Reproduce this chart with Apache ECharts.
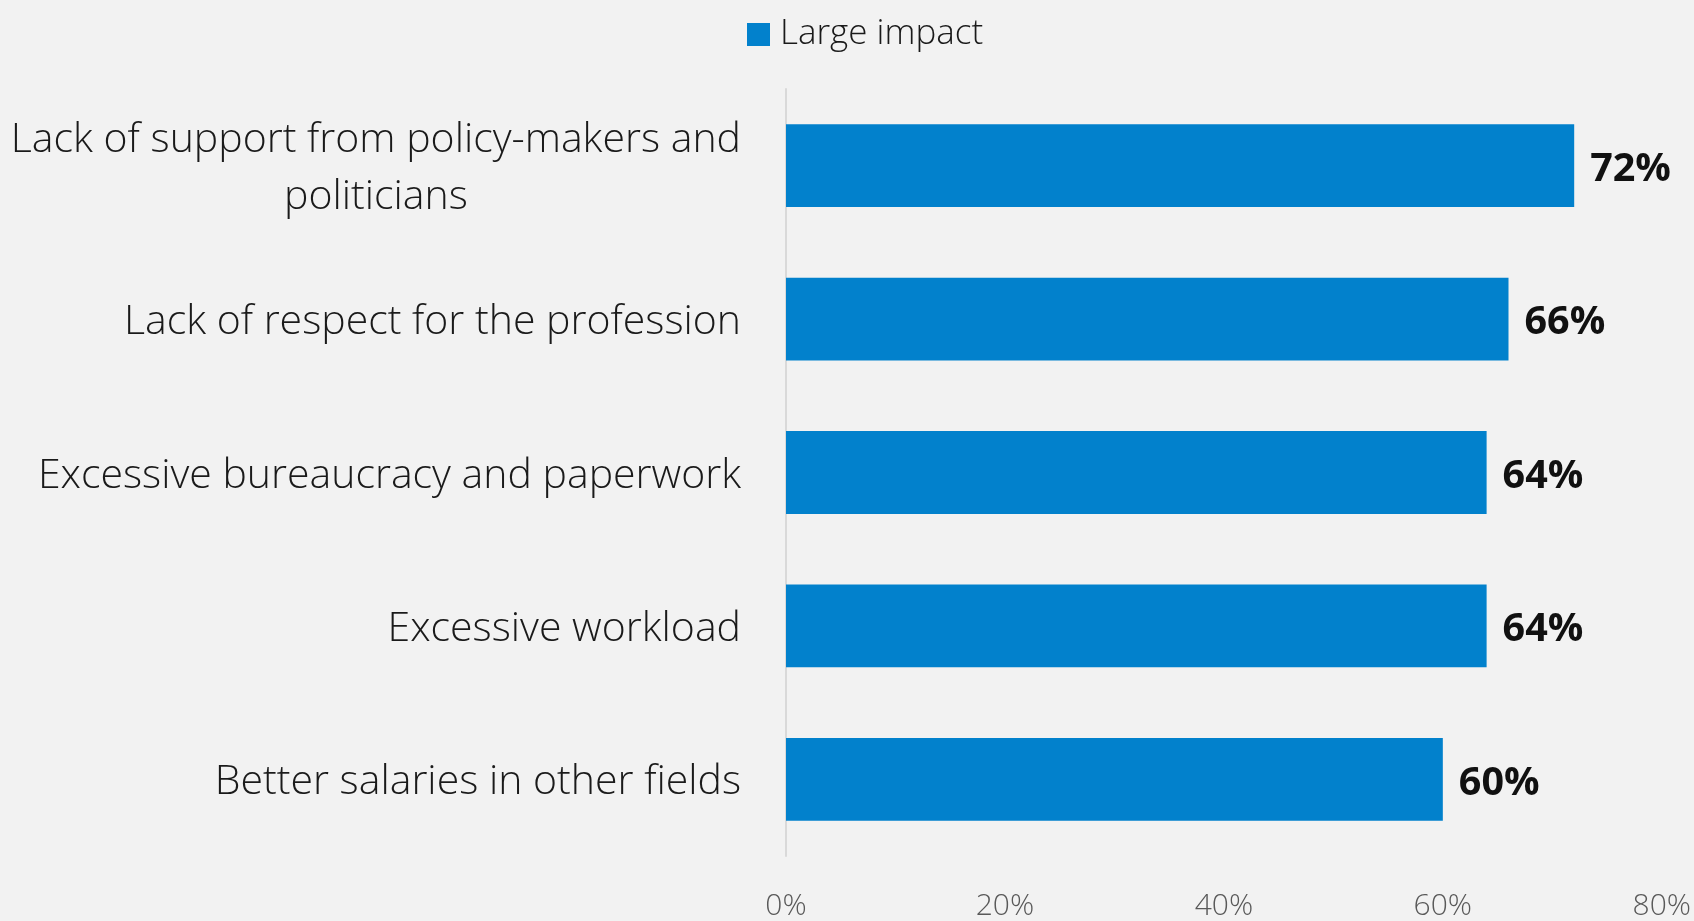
<!DOCTYPE html>
<html>
<head>
<meta charset="utf-8">
<title>Large impact</title>
<script src="https://cdn.jsdelivr.net/npm/echarts@6/dist/echarts.min.js"></script>
<style>
  html, body { margin: 0; padding: 0; background: #f2f2f2; }
  #chart { width: 1694px; height: 921px; }
</style>
</head>
<body>
<div id="chart"></div>
<script>
// Reasons and the share of respondents rating each as a large impact
const categories = [
  'Lack of support from policy-makers and\npoliticians',
  'Lack of respect for the profession',
  'Excessive bureaucracy and paperwork',
  'Excessive workload',
  'Better salaries in other fields'
];
const largeImpact = [72, 66, 64, 64, 60];
const seriesName = 'Large impact';
const axisTicks = [0, 20, 40, 60, 80];

const FONT = '"Segoe UI", "Open Sans", "Noto Sans", sans-serif';

const chart = echarts.init(document.getElementById('chart'));
chart.setOption({
  backgroundColor: '#f2f2f2',
  textStyle: { fontFamily: FONT },
  legend: {
    data: [seriesName],
    top: 12,
    left: 742,
    icon: 'rect',
    itemWidth: 23,
    itemHeight: 23,
    itemGap: 10,
    textStyle: { fontSize: 35, fontWeight: 300, color: '#1a1a1a', fontFamily: FONT, padding: [0, 0, 0, 5] }
  },
  grid: { left: 786, right: 31, top: 89, bottom: 64, containLabel: false },
  xAxis: {
    type: 'value',
    min: axisTicks[0],
    max: axisTicks[axisTicks.length - 1],
    interval: axisTicks[1] - axisTicks[0],
    axisLine: { show: false },
    axisTick: { show: false },
    splitLine: { show: false },
    axisLabel: {
      formatter: '{value}%',
      color: '#595959',
      fontSize: 30,
      fontWeight: 300,
      margin: 35,
      fontFamily: FONT
    }
  },
  yAxis: {
    type: 'category',
    inverse: true,
    data: categories,
    axisLine: { show: true, lineStyle: { color: '#d9d9d9', width: 2 } },
    axisTick: { show: false },
    axisLabel: {
      margin: 45,
      padding: [7, 0, 0, 0],
      formatter: v => v.split('\n').map(l => '{c|' + l + '}').join('\n'),
      rich: {
        c: { align: 'center', fontSize: 41, fontWeight: 300, lineHeight: 57, color: '#1a1a1a', fontFamily: FONT }
      }
    }
  },
  series: [{
    name: seriesName,
    type: 'bar',
    data: largeImpact,
    barCategoryGap: '46%',
    itemStyle: { color: '#0281cc' },
    label: {
      show: true,
      position: 'right',
      distance: 16,
      offset: [0, 4],
      formatter: '{c}%',
      fontSize: 39.5,
      fontWeight: 'bold',
      color: '#111111',
      fontFamily: FONT
    }
  }]
});
</script>
</body>
</html>
